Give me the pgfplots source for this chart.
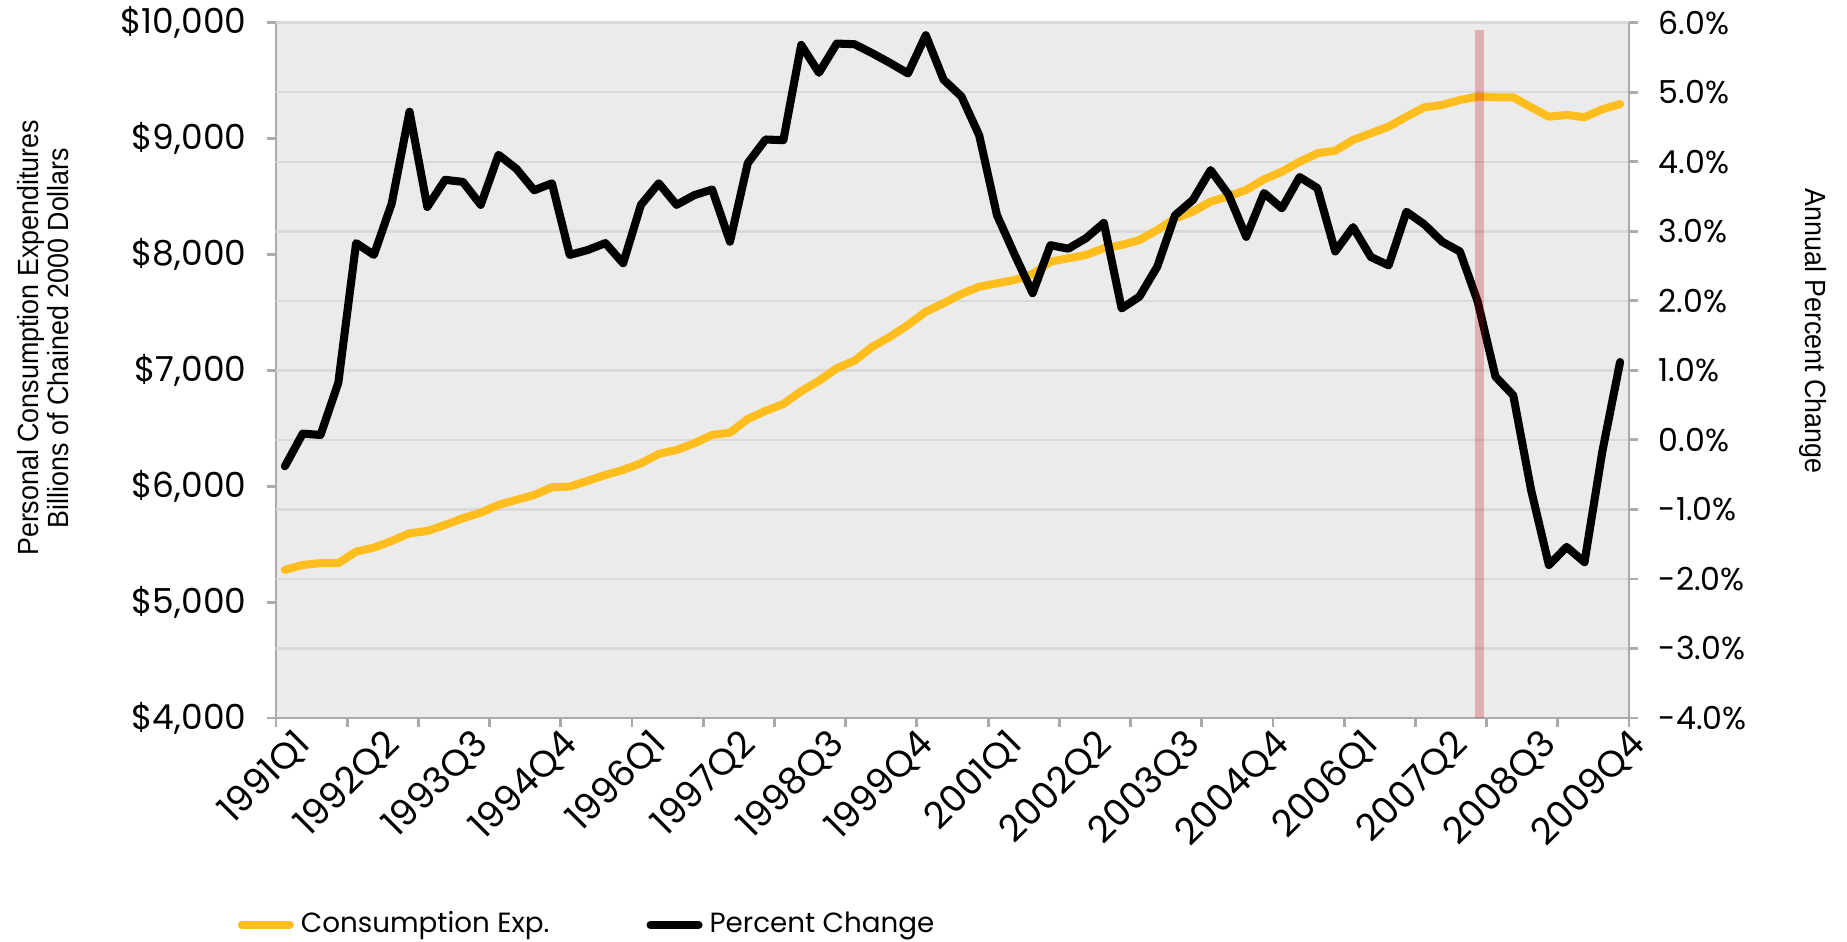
\documentclass[border=0pt]{standalone}
\usepackage{pgfplots}
\usepackage{pgfplotstable}
\pgfplotsset{compat=1.18}
\usepackage{fontspec}
\setmainfont{Poppins}
\newfontfamily\titlefont[FakeStretch=0.92]{Liberation Sans}

\definecolor{pceyellow}{HTML}{FFBE1E}
\definecolor{plotbg}{HTML}{EBEBEB}
\definecolor{gridgray}{HTML}{D9D9D9}
\definecolor{axisgray}{HTML}{ABABAB}
\definecolor{recred}{HTML}{C00000}

% quarter index 0 = 1991Q1 ... 75 = 2009Q4
\pgfplotstableread{
q pce
0 5278
1 5321
2 5336
3 5336
4 5436
5 5470
6 5528
7 5594
8 5614
9 5666
10 5724
11 5772
12 5839
13 5882
14 5925
15 5991
16 5997
17 6046
18 6097
19 6141
20 6198
21 6279
22 6313
23 6371
24 6443
25 6462
26 6580
27 6650
28 6710
29 6820
30 6910
31 7018
32 7084
33 7204
34 7291
35 7392
36 7506
37 7579
38 7659
39 7722
40 7751
41 7780
42 7832
43 7938
44 7967
45 7996
46 8053
47 8082
48 8125
49 8211
50 8312
51 8369
52 8456
53 8502
54 8557
55 8649
56 8714
57 8801
58 8873
59 8896
60 8988
61 9046
62 9103
63 9189
64 9270
65 9290
66 9333
67 9362
68 9356
69 9356
70 9270
71 9189
72 9204
73 9184
74 9253
75 9298
}\pcedata

\pgfplotstableread{
q pct
0 -0.38
1 0.09
2 0.07
3 0.82
4 2.83
5 2.66
6 3.40
7 4.72
8 3.35
9 3.74
10 3.71
11 3.38
12 4.10
13 3.90
14 3.59
15 3.69
16 2.66
17 2.73
18 2.83
19 2.54
20 3.38
21 3.69
22 3.38
23 3.52
24 3.60
25 2.85
26 3.98
27 4.32
28 4.31
29 5.68
30 5.28
31 5.70
32 5.69
33 5.56
34 5.42
35 5.27
36 5.82
37 5.18
38 4.94
39 4.38
40 3.23
41 2.66
42 2.11
43 2.80
44 2.75
45 2.90
46 3.12
47 1.89
48 2.06
49 2.49
50 3.23
51 3.45
52 3.88
53 3.53
54 2.92
55 3.55
56 3.33
57 3.78
58 3.62
59 2.71
60 3.06
61 2.63
62 2.51
63 3.28
64 3.10
65 2.85
66 2.71
67 1.99
68 0.91
69 0.64
70 -0.72
71 -1.80
72 -1.54
73 -1.76
74 -0.17
75 1.12
}\pctdata

\begin{document}
\begin{tikzpicture}
\useasboundingbox (-2.76,-2.24) rectangle (15.71,7.18);

% left axis: consumption expenditures
\begin{axis}[
    scale only axis, width=13.53cm, height=6.953cm,
    xmin=-0.5, xmax=75.5, ymin=4000, ymax=10000,
    axis x line*=bottom, axis y line*=left,
    axis background/.style={fill=plotbg},
    axis line style={draw=axisgray, line width=0.8pt},
    tick align=outside, major tick length=0.09cm,
    tick style={draw=axisgray, line width=0.8pt},
    scaled y ticks=false, scaled x ticks=false,
    ytick={4000,5000,6000,7000,8000,9000,10000},
    yticklabels={{\$4,000},{\$5,000},{\$6,000},{\$7,000},{\$8,000},{\$9,000},{\$10,000}},
    yticklabel style={font=\fontsize{9.8}{11}\selectfont, anchor=east, inner sep=0pt, xshift=-0.2cm},
    xtick={-0.5,3.5,7.5,11.5,15.5,19.5,23.5,27.5,31.5,35.5,39.5,43.5,47.5,51.5,55.5,59.5,63.5,67.5,71.5,75.5},
    xticklabels={},
    extra x ticks={0,5,10,15,20,25,30,35,40,45,50,55,60,65,70,75},
    extra x tick labels={1991Q1,1992Q2,1993Q3,1994Q4,1996Q1,1997Q2,1998Q3,1999Q4,2001Q1,2002Q2,2003Q3,2004Q4,2006Q1,2007Q2,2008Q3,2009Q4},
    extra x tick style={major tick length=0pt, tick style={draw=none}},
    xticklabel style={font=\fontsize{10.5}{12}\selectfont, rotate=45, anchor=east, inner sep=0pt, yshift=-0.28cm},
    extra y ticks={4600,5200,5800,6400,7000,7600,8200,8800,9400,10000},
    extra y tick labels={},
    extra y tick style={grid=major, major tick length=0pt, tick style={draw=none}},
    major grid style={draw=gridgray, line width=0.7pt},
]
\addplot[pceyellow, line width=2.3pt, line join=round, line cap=round] table[x=q, y=pce] {\pcedata};
\end{axis}

% right axis: annual percent change
\begin{axis}[
    scale only axis, width=13.53cm, height=6.953cm,
    xmin=-0.5, xmax=75.5, ymin=-4, ymax=6,
    axis x line=none, axis y line*=right,
    axis line style={draw=axisgray, line width=0.8pt},
    tick align=outside, major tick length=0.09cm,
    tick style={draw=axisgray, line width=0.8pt},
    ytick={-4,-3,-2,-1,0,1,2,3,4,5,6},
    yticklabels={{-4.0\%},{-3.0\%},{-2.0\%},{-1.0\%},{0.0\%},{1.0\%},{2.0\%},{3.0\%},{4.0\%},{5.0\%},{6.0\%}},
    yticklabel style={font=\fontsize{9}{10}\selectfont, anchor=west, inner sep=0pt, xshift=0.2cm},
    legend columns=2,
    legend cell align=left,
    legend image code/.code={\draw[#1, line cap=round] (0cm,0cm) -- (0.48cm,0cm);},
    legend style={draw=none, fill=none, at={(axis description cs:-0.0288,-0.2977)}, anchor=west,
        inner sep=0pt, font=\fontsize{7.9}{10}\selectfont,
        /tikz/every even column/.append style={column sep=0.9cm}},
]
\addlegendimage{pceyellow, line width=2.3pt}
\addlegendentry{Consumption Exp.}
\addplot[black, line width=2.3pt, line join=round, line cap=round] table[x=q, y=pct] {\pctdata};
\addlegendentry{Percent Change}
\addplot[recred, opacity=0.25, line width=2.3pt, forget plot] coordinates {(67.1,-4) (67.1,5.9)};
\end{axis}

\node[rotate=90, align=center, font=\titlefont\fontsize{8.3}{8.6}\selectfont] at (-2.33,3.80)
    {Personal Consumption Expenditures\\Billions of Chained 2000 Dollars};
\node[rotate=-90, font=\titlefont\fontsize{8.3}{10}\selectfont] at (15.37,3.87) {Annual Percent Change};
\end{tikzpicture}
\end{document}
